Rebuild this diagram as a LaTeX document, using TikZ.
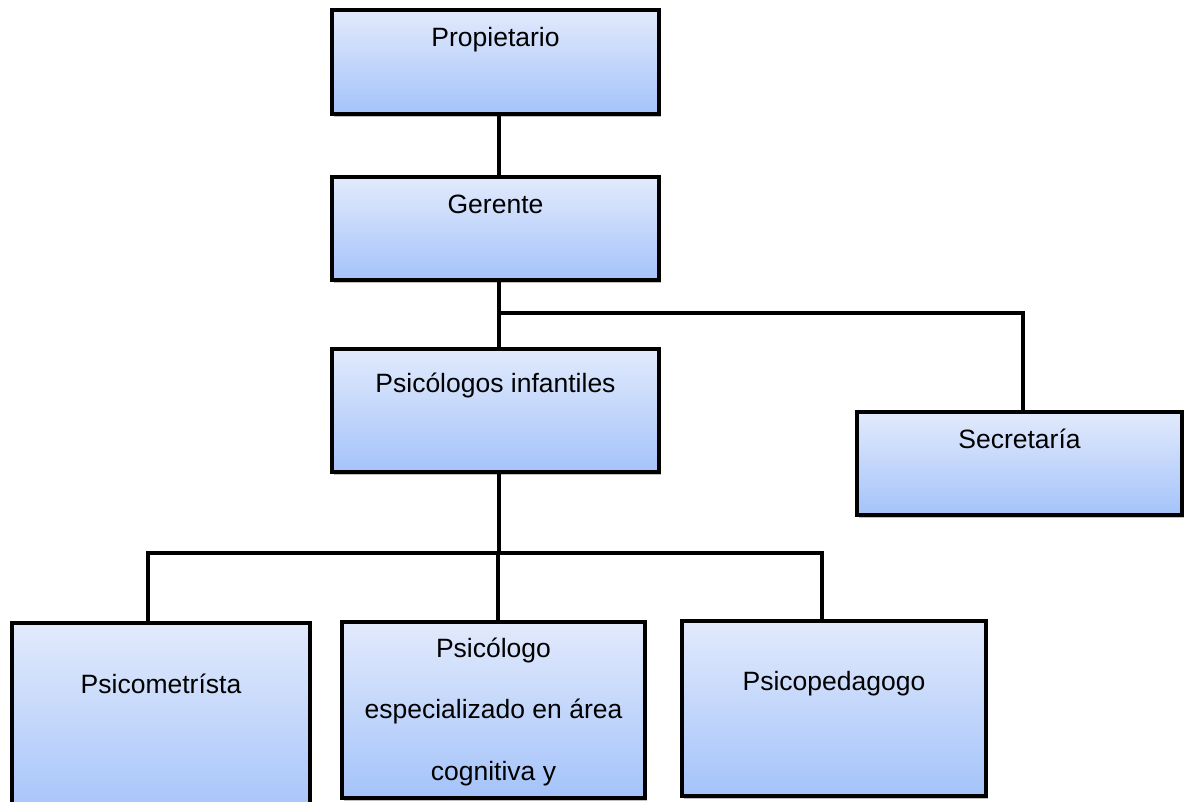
\documentclass[tikz,border=0pt]{standalone}
\usepackage{fontspec}
\setmainfont{Liberation Sans}
\usetikzlibrary{shadows}
\definecolor{boxtop}{RGB}{226,234,252}
\definecolor{boxbot}{RGB}{164,195,250}
\begin{document}
\begin{tikzpicture}[x=1pt,y=-1pt,
  orgbox/.style={draw=black, line width=4pt, rectangle, inner sep=0pt,
    top color=boxtop, bottom color=boxbot,
    drop shadow={shadow xshift=2pt, shadow yshift=-3pt, opacity=0.25, fill=black}},
  lbl/.style={anchor=base, inner sep=0pt, font=\fontsize{26.5}{61.5}\selectfont},
  link/.style={line width=4pt, line join=miter}]
\useasboundingbox (0,0) rectangle (1192,801);

% boxes
\node[orgbox, minimum width=327pt, minimum height=104pt] (prop) at (495.5,62) {};
\node[orgbox, minimum width=327pt, minimum height=103pt] (ger)  at (495.5,228.5) {};
\node[orgbox, minimum width=327pt, minimum height=123pt] (psi)  at (495.5,410.5) {};
\node[orgbox, minimum width=325pt, minimum height=103pt] (sec)  at (1019.5,463.5) {};
\node[orgbox, minimum width=298pt, minimum height=197pt] (pmet) at (161,721.5) {};
\node[orgbox, minimum width=303pt, minimum height=176pt] (pesp) at (493.5,710) {};
\node[orgbox, minimum width=304pt, minimum height=175pt] (pped) at (834,708.5) {};

% labels (the three-line label is anchored on its last baseline)
\node[lbl] (tprop) at (495.5,46) {Propietario};
\node[lbl] (tger)  at (495.5,213) {Gerente};
\node[lbl] (tpsi)  at (495.5,392) {Psicólogos infantiles};
\node[lbl] (tsec)  at (1019.5,448) {Secretaría};
\node[lbl] (tpmet) at (161,693) {Psicometrísta};
\node[lbl, align=center] (tpesp) at (493.5,780) {Psicólogo\\especializado en área\\cognitiva y};
\node[lbl] (tpped) at (834,690) {Psicopedagogo};

% branch points and drop positions
\coordinate (b1) at (499,313);
\coordinate (s1) at (1023,313);
\coordinate (b2) at (499,553);
\coordinate (d1) at (148,553);
\coordinate (d2) at (498,553);
\coordinate (d3) at (822,553);

% connectors
\draw[link] (prop.south -| b1) -- (ger.north -| b1);
\draw[link] (ger.south -| b1) -- (psi.north -| b1);
\draw[link] (b1) -- (s1) -- (s1 |- sec.north);
\draw[link] (psi.south -| b2) -- (b2);
\draw[link] (d1 |- pmet.north) -- (d1) -- (d3) -- (d3 |- pped.north);
\draw[link] (d2) -- (d2 |- pesp.north);
\end{tikzpicture}
\end{document}
